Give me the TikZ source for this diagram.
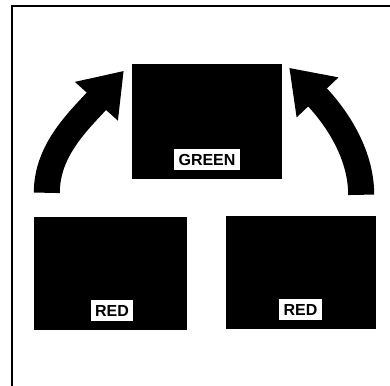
\documentclass[tikz,border=0pt]{standalone}
\usepackage{fontspec}
\setmainfont{Liberation Sans}
\usetikzlibrary{arrows.meta,calc,positioning}

\begin{document}
\begin{tikzpicture}[x=1pt, y=-1pt,
    panel/.style={rectangle, fill=black, inner sep=0pt},
    tag/.style={rectangle, fill=white, inner xsep=4.5pt, inner ysep=0pt,
                minimum height=21pt, font=\fontsize{16}{19}\selectfont\bfseries, anchor=south},
    swing/.style={line width=26pt, -{Triangle[length=41pt, width=55pt]}}
]
    \useasboundingbox (0,0) rectangle (390,385);
    % Frame (only top and left edges show)
    \begin{scope}
      \clip (0,0) rectangle (390,385);
      \draw[line width=2pt] (11.7,400) |- (400,5.7);
    \end{scope}

    % Panels
    \node[panel, minimum width=150pt, minimum height=115pt] (green) at (207,121.5) {};
    \node[panel, minimum width=153pt, minimum height=113pt] (redL) at (110.5,273.5) {};
    \node[panel, minimum width=150pt, minimum height=113pt] (redR) at (301,272.5) {};

    % Labels
    \node[tag] (greentag) at ($(green.south)+(0,-9)$) {GREEN};
    \node[tag] (redLtag) at ($(redL.south)+(1.5,-9)$) {RED};
    \node[tag] (redRtag) at ($(redR.south)+(-0.5,-9)$) {RED};

    % Arrows
    \coordinate (tailL) at ($(redL.north west)+(13,-24)$);
    \coordinate (tipL) at ($(green.north west)+(-8,7)$);
    \coordinate (tailR) at ($(redR.north east)+(-15,-21)$);
    \coordinate (tipR) at ($(green.north east)+(7,4)$);
    \draw[swing] (tailL) .. controls +(0,-43) and +(-45,50) .. (tipL);
    \draw[swing] (tailR) .. controls +(0,-43) and +(45,47) .. (tipR);
\end{tikzpicture}
\end{document}
